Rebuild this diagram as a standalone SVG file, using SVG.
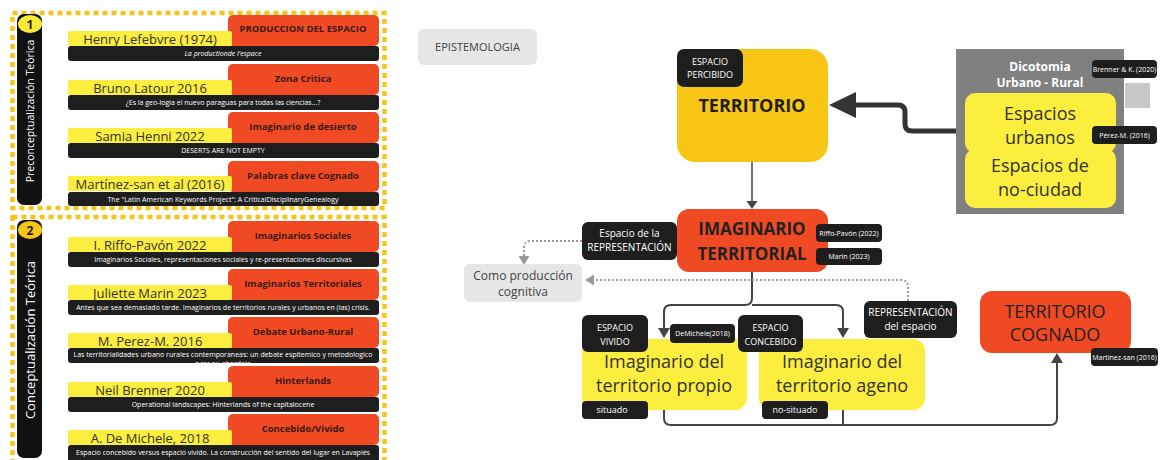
<svg xmlns="http://www.w3.org/2000/svg" width="1160" height="460" viewBox="0 0 1160 460">
<defs>
<style>
text{font-family:"Open Sans","Noto Sans","DejaVu Sans",sans-serif}
.red{fill:#f04a25}
.yel{fill:#fbee3e}
.blk{fill:#1e1e1e}
.rt{font-size:9.5px;font-weight:bold;fill:#3a1a10;text-anchor:middle}
.yt{font-size:13px;fill:#333;text-anchor:middle}
.bt{font-size:7px;fill:#fff;text-anchor:middle}
.lab{font-size:9px;fill:#fff;text-anchor:middle}
.sm{font-size:7px;fill:#fff;text-anchor:middle}
.big{font-size:18px;fill:#333;text-anchor:middle}
.border{fill:none;stroke:#f5c518;stroke-width:4.5;stroke-dasharray:5 4}
.con{fill:none;stroke:#444;stroke-width:2}
.dot{fill:none;stroke:#999;stroke-width:2;stroke-dasharray:2 2}
</style>
<clipPath id="c1"><rect x="68" y="348" width="311" height="15"/></clipPath>
</defs>
<rect width="1160" height="460" fill="#fff"/>

<!-- Panel 1 -->
<g id="panel1">
<rect class="border" x="12.5" y="13" width="372" height="195"/>
<rect x="17" y="14" width="25" height="191" rx="7" fill="#111"/>
<ellipse cx="30" cy="24" rx="12" ry="9" fill="#fbe93a"/>
<text x="30" y="28.5" font-size="12" font-weight="bold" fill="#222" text-anchor="middle">1</text>
<text transform="translate(34,111) rotate(-90)" font-size="10.5" fill="#fff" text-anchor="middle">Preconceptualización Teórica</text>
</g>
<g id="item-lefebvre">
<rect class="red" x="228" y="15" width="151" height="31" rx="5"/>
<rect class="yel" x="68" y="31" width="164" height="15" rx="2"/>
<rect class="blk" x="68" y="46" width="311" height="15" rx="3"/>
<text class="rt" x="303" y="32">PRODUCCION DEL ESPACIO</text>
<text class="yt" x="150" y="44">Henry Lefebvre (1974)</text>
<text class="bt" x="223" y="56" font-style="italic">La productionde l'espace</text>
</g>
<g id="item-latour">
<rect class="red" x="228" y="64" width="151" height="31" rx="5"/>
<rect class="yel" x="68" y="80" width="164" height="15" rx="2"/>
<rect class="blk" x="68" y="95" width="311" height="15" rx="3"/>
<text class="rt" x="303" y="82">Zona Critica</text>
<text class="yt" x="150" y="93">Bruno Latour 2016</text>
<text class="bt" x="223" y="105">¿Es la geo-logia el nuevo paraguas para todas las ciencias...?</text>
</g>
<g id="item-henni">
<rect class="red" x="228" y="112" width="151" height="31" rx="5"/>
<rect class="yel" x="68" y="128" width="164" height="15" rx="2"/>
<rect class="blk" x="68" y="143" width="311" height="15" rx="3"/>
<text class="rt" x="303" y="130">Imaginario de desierto</text>
<text class="yt" x="150" y="141">Samia Henni 2022</text>
<text class="bt" x="223" y="153">DESERTS ARE NOT EMPTY</text>
</g>
<g id="item-martinez">
<rect class="red" x="228" y="161" width="151" height="31" rx="5"/>
<rect class="yel" x="68" y="176" width="164" height="15" rx="2"/>
<rect class="blk" x="68" y="192" width="311" height="14" rx="3"/>
<text class="rt" x="303" y="179">Palabras clave Cognado</text>
<text class="yt" x="150" y="189">Martínez-san et al (2016)</text>
<text class="bt" x="223" y="202">The "Latin American Keywords Project":  A CriticalDisciplinaryGenealogy</text>
</g>

<!-- Panel 2 -->
<g id="panel2">
<rect class="border" x="12.5" y="217" width="372" height="260"/>
<rect x="17" y="220" width="25" height="238" rx="7" fill="#111"/>
<ellipse cx="30" cy="230" rx="12" ry="9" fill="#f5c518"/>
<text x="30" y="234.5" font-size="12" font-weight="bold" fill="#222" text-anchor="middle">2</text>
<text transform="translate(35,340) rotate(-90)" font-size="13" fill="#fff" text-anchor="middle">Conceptualización Teórica</text>
</g>
<g id="item-riffo">
<rect class="red" x="228" y="221" width="151" height="31" rx="5"/>
<rect class="yel" x="68" y="237" width="164" height="15" rx="2"/>
<rect class="blk" x="68" y="252" width="311" height="15" rx="3"/>
<text class="rt" x="303" y="239">Imaginarios Sociales</text>
<text class="yt" x="150" y="250">I. Riffo-Pavón 2022</text>
<text class="bt" x="223" y="262">Imaginarios Sociales, representaciones sociales y re-presentaciones discursivas</text>
</g>
<g id="item-marin">
<rect class="red" x="228" y="269" width="151" height="31" rx="5"/>
<rect class="yel" x="68" y="285" width="164" height="15" rx="2"/>
<rect class="blk" x="68" y="300" width="311" height="15" rx="3"/>
<text class="rt" x="303" y="287">Imaginarios Territoriales</text>
<text class="yt" x="150" y="298">Juliette Marin 2023</text>
<text class="bt" x="223" y="310">Antes que sea demasiado tarde. Imaginarios de territorios rurales y urbanos en (las) crisis.</text>
</g>
<g id="item-perez">
<rect class="red" x="228" y="317" width="151" height="31" rx="5"/>
<rect class="yel" x="68" y="333" width="164" height="15" rx="2"/>
<rect class="blk" x="68" y="348" width="311" height="15" rx="3"/>
<text class="rt" x="303" y="335">Debate Urbano-Rural</text>
<text class="yt" x="150" y="346">M. Perez-M. 2016</text>
<g clip-path="url(#c1)">
<text class="bt" x="223" y="357">Las territorialidades urbano rurales contemporaneas: un debate espitemico y metodologico</text>
<text class="bt" x="223" y="366">para su abordaje</text>
</g>
</g>
<g id="item-brenner">
<rect class="red" x="228" y="366" width="151" height="31" rx="5"/>
<rect class="yel" x="68" y="382" width="164" height="15" rx="2"/>
<rect class="blk" x="68" y="397" width="311" height="15" rx="3"/>
<text class="rt" x="303" y="384">Hinterlands</text>
<text class="yt" x="150" y="395">Neil Brenner 2020</text>
<text class="bt" x="223" y="407">Operational landscapes: Hinterlands of the capitalocene</text>
</g>
<g id="item-demichele">
<rect class="red" x="228" y="414" width="151" height="31" rx="5"/>
<rect class="yel" x="68" y="430" width="164" height="15" rx="2"/>
<rect class="blk" x="68" y="445" width="311" height="20" rx="3"/>
<text class="rt" x="303" y="432">Concebido/Vivido</text>
<text class="yt" x="150" y="443">A. De Michele, 2018</text>
<text class="bt" x="223" y="455">Espacio concebido versus espacio vivido. La construcción del sentido del lugar en Lavapiés</text>
</g>

<!-- Connectors -->
<g id="connectors">
<path d="M956,131 H912 Q905,131 905,124 V112 Q905,105 898,105 H852" fill="none" stroke="#333" stroke-width="5"/>
<polygon points="829,105 856,92 856,118" fill="#333"/>
<line x1="752" y1="162" x2="752" y2="203" stroke="#444" stroke-width="1.5"/>
<polygon points="746.5,201 757.5,201 752,209" fill="#444"/>
<path class="con" d="M752,272 V298 Q752,305 745,305 H671 Q664,305 664,312 V330"/>
<path class="con" d="M752,305 H836 Q843,305 843,312 V330"/>
<polygon points="658,328 670,328 664,338" fill="#444"/>
<polygon points="837,328 849,328 843,338" fill="#444"/>
<path class="con" d="M664,410 V418 Q664,425 671,425 H1050 Q1057,425 1057,418 V362"/>
<path class="con" d="M843,410 V425"/>
<polygon points="1051,363 1063,363 1057,353" fill="#444"/>
<path class="dot" d="M582,241 H531 Q524,241 524,248 V257"/>
<polygon points="518.5,256 529.5,256 524,265" fill="#999"/>
<path class="dot" d="M908,301 V287 Q908,280 901,280 H593"/>
<polygon points="594,274.5 594,285.5 585,280" fill="#999"/>
</g>

<!-- Middle nodes -->
<g id="epistemologia">
<rect x="418" y="29" width="119" height="36" rx="6" fill="#e6e6e6"/>
<text x="477.5" y="51" font-size="11" fill="#444" text-anchor="middle">EPISTEMOLOGIA</text>
</g>
<g id="territorio">
<rect x="677" y="49" width="151" height="113" rx="18" fill="#f8c615"/>
<text x="752" y="112" font-size="18" font-weight="bold" fill="#1e1e1e" text-anchor="middle">TERRITORIO</text>
<rect x="677" y="49" width="66" height="38" rx="7" fill="#1e1e1e"/>
<text class="lab" x="710" y="65">ESPACIO</text>
<text class="lab" x="710" y="78">PERCIBIDO</text>
</g>
<g id="dicotomia">
<rect x="956" y="49" width="168" height="165" fill="#808080"/>
<text x="1040" y="71" font-size="12" font-weight="bold" fill="#fff" text-anchor="middle">Dicotomia</text>
<text x="1040" y="87" font-size="12" font-weight="bold" fill="#fff" text-anchor="middle">Urbano - Rural</text>
<rect x="1125" y="83" width="25" height="25" fill="#c8c8c8"/>
<rect x="1092" y="60" width="65" height="18" rx="4" fill="#1e1e1e"/>
<text class="sm" x="1124.5" y="72">Brenner &amp; K. (2020)</text>
</g>
<g id="espacios-urbanos">
<rect class="yel" x="965" y="93" width="151" height="60" rx="10"/>
<text class="big" x="1040" y="120">Espacios</text>
<text class="big" x="1040" y="144">urbanos</text>
<rect x="1092" y="126" width="65" height="18" rx="4" fill="#1e1e1e"/>
<text class="sm" x="1124.5" y="138">Pérez-M. (2016)</text>
</g>
<g id="espacios-noc">
<rect class="yel" x="965" y="149" width="151" height="59" rx="10"/>
<text class="big" x="1040" y="172">Espacios de</text>
<text class="big" x="1040" y="196">no-ciudad</text>
</g>
<g id="imaginario-territorial">
<rect class="red" x="677" y="209" width="151" height="63" rx="12"/>
<text x="752" y="235" font-size="17" font-weight="bold" fill="#222" text-anchor="middle">IMAGINARIO</text>
<text x="752" y="260" font-size="17" font-weight="bold" fill="#222" text-anchor="middle">TERRITORIAL</text>
<rect x="816" y="224" width="66" height="18" rx="4" fill="#1e1e1e"/>
<text class="sm" x="849" y="236">Riffo-Pavón (2022)</text>
<rect x="816" y="248" width="66" height="17" rx="4" fill="#1e1e1e"/>
<text class="sm" x="849" y="259">Marin (2023)</text>
<rect x="582" y="222" width="95" height="38" rx="6" fill="#1e1e1e"/>
<text x="629.5" y="237" font-size="10" fill="#fff" text-anchor="middle">Espacio de la</text>
<text x="629.5" y="251" font-size="10" fill="#fff" text-anchor="middle">REPRESENTACIÓN</text>
</g>
<g id="como-produccion">
<rect x="464" y="264" width="118" height="38" rx="6" fill="#e6e6e6"/>
<text x="523" y="280" font-size="12" fill="#444" text-anchor="middle">Como producción</text>
<text x="523" y="296" font-size="12" fill="#444" text-anchor="middle">cognitiva</text>
</g>
<g id="representacion-espacio">
<rect x="864" y="301" width="93" height="37" rx="6" fill="#1e1e1e"/>
<text x="910.5" y="316" font-size="10" fill="#fff" text-anchor="middle">REPRESENTACIÓN</text>
<text x="910.5" y="330" font-size="10" fill="#fff" text-anchor="middle">del espacio</text>
</g>
<g id="territorio-propio">
<rect class="yel" x="582" y="339" width="165" height="71" rx="12"/>
<text class="big" x="664" y="368">Imaginario del</text>
<text class="big" x="664" y="392">territorio propio</text>
<rect x="582" y="315" width="66" height="37" rx="6" fill="#1e1e1e"/>
<text class="lab" x="615" y="331">ESPACIO</text>
<text class="lab" x="615" y="345">VIVIDO</text>
<rect x="670" y="324" width="65" height="19" rx="4" fill="#1e1e1e"/>
<text class="sm" x="702.5" y="336">DeMichele(2018)</text>
<rect x="582" y="401" width="66" height="18" rx="4" fill="#1e1e1e"/>
<text class="lab" x="612" y="413">situado</text>
</g>
<g id="territorio-ageno">
<rect class="yel" x="759" y="339" width="166" height="71" rx="12"/>
<text class="big" x="842" y="368">Imaginario del</text>
<text class="big" x="842" y="392">territorio ageno</text>
<rect x="738" y="315" width="65" height="37" rx="6" fill="#1e1e1e"/>
<text class="lab" x="770.5" y="331">ESPACIO</text>
<text class="lab" x="770.5" y="345">CONCEBIDO</text>
<rect x="762" y="401" width="66" height="18" rx="4" fill="#1e1e1e"/>
<text class="lab" x="795" y="413">no-situado</text>
</g>
<g id="territorio-cognado">
<rect class="red" x="980" y="291" width="151" height="62" rx="12"/>
<text x="1055" y="318" font-size="18" fill="#222" text-anchor="middle">TERRITORIO</text>
<text x="1055" y="341" font-size="18" fill="#222" text-anchor="middle">COGNADO</text>
<rect x="1091" y="348" width="67" height="18" rx="4" fill="#1e1e1e"/>
<text class="sm" x="1124.5" y="360">Martínez-san (2016)</text>
</g>
</svg>
